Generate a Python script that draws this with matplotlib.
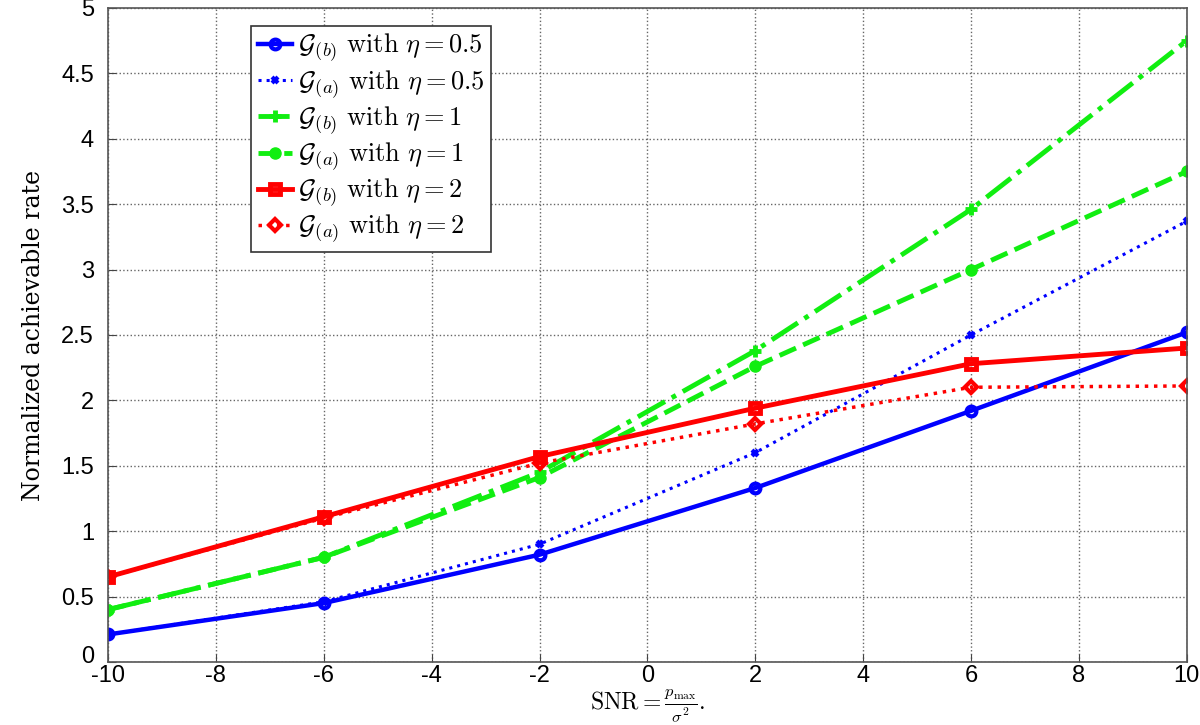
import matplotlib
matplotlib.use("Agg")
import matplotlib.pyplot as plt
import matplotlib.transforms as mtransforms

plt.rcParams['mathtext.fontset'] = 'cm'
plt.rcParams['font.family'] = ['Liberation Sans', 'DejaVu Sans']

snr = [-10, -6, -2, 2, 6, 10]
gb_05 = [0.21, 0.45, 0.82, 1.33, 1.92, 2.52]
ga_05 = [0.21, 0.46, 0.90, 1.60, 2.50, 3.37]
gb_1 = [0.40, 0.80, 1.45, 2.38, 3.46, 4.75]
ga_1 = [0.40, 0.80, 1.41, 2.26, 3.00, 3.75]
gb_2 = [0.65, 1.11, 1.57, 1.94, 2.28, 2.40]
ga_2 = [0.65, 1.10, 1.52, 1.82, 2.10, 2.11]

labels = [r"$\mathcal{G}_{(b)}\ \mathrm{with}\ \eta = 0.5$",
          r"$\mathcal{G}_{(a)}\ \mathrm{with}\ \eta = 0.5$",
          r"$\mathcal{G}_{(b)}\ \mathrm{with}\ \eta = 1$",
          r"$\mathcal{G}_{(a)}\ \mathrm{with}\ \eta = 1$",
          r"$\mathcal{G}_{(b)}\ \mathrm{with}\ \eta = 2$",
          r"$\mathcal{G}_{(a)}\ \mathrm{with}\ \eta = 2$"]

fig = plt.figure(figsize=(12, 7.25), dpi=100)
ax = fig.add_axes([0.09, 0.087, 0.899, 0.902])

blue = '#0000ff'
green = '#11ee11'
red = '#ff0000'

ax.plot(snr, gb_05, '-', color=blue, lw=3.2, marker='o', ms=7, mfc='none', mew=3, label=labels[0])
ax.plot(snr, ga_05, ':', color=blue, lw=2.2, marker='x', ms=5, mew=3, label=labels[1])
ax.plot(snr, gb_1, '-.', color=green, lw=3.5, marker='+', ms=8, mew=3.5, label=labels[2])
ax.plot(snr, ga_1, '--', color=green, lw=3.5, marker='o', ms=8, label=labels[3])
ax.plot(snr, gb_2, '-', color=red, lw=3.5, marker='s', ms=7, mfc='none', mew=3.5, label=labels[4])
ax.plot(snr, ga_2, ':', color=red, lw=2.5, marker='D', ms=6, mfc='none', mew=3, label=labels[5])

ax.set_xlim(-10, 10)
ax.set_ylim(0, 5)
ax.set_xticks(range(-10, 11, 2))
ax.set_yticks([i * 0.5 for i in range(11)])
ax.set_xticklabels([str(v) for v in range(-10, 11, 2)])
ax.set_yticklabels(['0', '0.5', '1', '1.5', '2', '2.5', '3', '3.5', '4', '4.5', '5'])
ax.tick_params(direction='in', labelsize=17, length=6, color='#444444')
ax.tick_params(axis='y', pad=10)
ax.tick_params(axis='x', pad=2.5)
ax.grid(True, linestyle=':', color='#666666', lw=1)
for s in ax.spines.values():
    s.set_color('#555555')
    s.set_linewidth(1.2)

# nudge the bottom y tick label up a little so it clears the "-10" label
lbl0 = ax.get_yticklabels()[0]
lbl0.set_transform(lbl0.get_transform() +
                   mtransforms.ScaledTranslation(0, 5 / 72, fig.dpi_scale_trans))

fig.text(0.54, 0.001, r"$\mathrm{SNR}= \frac{p_{\max}}{\sigma^2}.$", fontsize=17,
         ha='center', va='bottom')
ax.set_ylabel("Normalized achievable rate", fontsize=17, labelpad=12,
              family=['DejaVu Serif'])

leg = ax.legend(loc='upper left', bbox_to_anchor=(0.133, 0.973), fontsize=19,
                handlelength=1.3, handletextpad=0.2, borderpad=0.25,
                labelspacing=0.15, fancybox=False, framealpha=1, borderaxespad=0)
leg.get_frame().set_edgecolor('#333333')
leg.get_frame().set_linewidth(1.2)

fig.savefig('out.png', dpi=100)
